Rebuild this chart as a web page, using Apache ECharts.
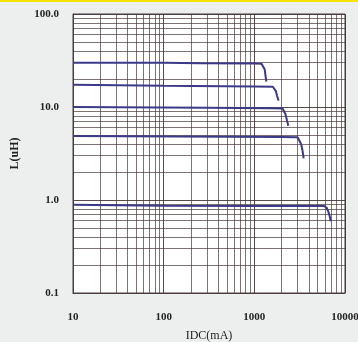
<!DOCTYPE html>
<html>
<head>
<meta charset="utf-8">
<script src="https://cdn.jsdelivr.net/npm/echarts@6/dist/echarts.min.js"></script>
<style>
  html, body { margin: 0; padding: 0; background: #edefee; }
  #chart { width: 358px; height: 342px; }
</style>
</head>
<body>
<div id="chart"></div>
<script>
// tick labels
var xTicks = [10, 100, 1000, 10000];
var yTicks = [0.1, 1, 10, 100];

// minor grid lines (2..9 of each decade)
var xMinor = [20, 30, 40, 50, 60, 70, 80, 90, 200, 300, 400, 500, 600, 700, 800, 900,
  2000, 3000, 4000, 5000, 6000, 7000, 8000, 9000];
var yMinor = [0.2, 0.3, 0.4, 0.5, 0.6, 0.7, 0.8, 0.9, 2, 3, 4, 5, 6, 7, 8, 9,
  20, 30, 40, 50, 60, 70, 80, 90];

// inductance vs DC current: [IDC mA, L uH]
var curve30 = [[10, 30], [100, 30], [250, 29.6], [1000, 29.3], [1200, 29.2], [1260, 28.2], [1300, 25.5], [1330, 21.5], [1357, 18.7]];
var curve17 = [[10, 17.3], [100, 16.9], [1000, 16.6], [1600, 16.5], [1680, 16.0], [1730, 14.8], [1780, 13.2], [1850, 11.7]];
var curve10 = [[10, 10.0], [300, 9.8], [1500, 9.7], [2050, 9.65], [2140, 9.2], [2210, 8.3], [2290, 7.2], [2370, 6.3]];
var curve5 = [[10, 4.87], [500, 4.8], [2000, 4.75], [3000, 4.72], [3150, 4.5], [3280, 4.0], [3400, 3.4], [3500, 2.8]];
var curve1 = [[10, 0.89], [30, 0.88], [100, 0.865], [1000, 0.86], [5900, 0.86], [6250, 0.83], [6550, 0.75], [6800, 0.66], [6950, 0.59]];

var curves = [curve30, curve17, curve10, curve5, curve1];

var chart = echarts.init(document.getElementById("chart"));

var gridColor = "rgba(70,55,55,0.7)";
var lineColor = "#3c3a88";
var font = "'Liberation Serif', 'DejaVu Serif', serif";

var series = curves.map(function (c) {
  return {
    type: "line",
    data: c,
    showSymbol: false,
    smooth: false,
    lineStyle: { color: lineColor, width: 2 },
    z: 5
  };
});

// grid lines for 2..9 of each decade, placed through the axes
var markData = [];
xMinor.forEach(function (v) { markData.push({ xAxis: v }); });
yMinor.forEach(function (v) { markData.push({ yAxis: v }); });
series.push({
  type: "line",
  data: [],
  silent: true,
  markLine: {
    silent: true,
    symbol: "none",
    animation: false,
    label: { show: false },
    lineStyle: { color: gridColor, width: 1, type: "solid" },
    data: markData
  },
  z: 1
});

var option = {
  backgroundColor: "#edefee",
  animation: false,
  grid: {
    left: 73, right: 13, top: 14, bottom: 49,
    outerBoundsMode: "none",
    containLabel: false,
    show: true,
    backgroundColor: "#ffffff",
    borderColor: "#4a3e3e",
    borderWidth: 1
  },
  graphic: [{
    type: "rect",
    left: 0, top: 0,
    shape: { width: 358, height: 2 },
    style: { fill: "#f6e200" }
  }],
  xAxis: {
    type: "log",
    logBase: 10,
    min: xTicks[0],
    max: xTicks[xTicks.length - 1],
    name: "IDC(mA)",
    nameLocation: "middle",
    nameGap: 37,
    nameTextStyle: { fontFamily: font, fontSize: 12, color: "#222" },
    axisLine: { show: true, lineStyle: { color: "#4a3e3e" } },
    axisTick: { show: false },
    axisLabel: {
      margin: 19,
      fontFamily: font,
      fontSize: 11,
      fontWeight: "bold",
      color: "#222",
      formatter: function (v) { return String(Math.round(v)); }
    },
    splitLine: { show: true, lineStyle: { color: "rgba(60,45,45,0.85)", width: 1 } }
  },
  yAxis: {
    type: "log",
    logBase: 10,
    min: yTicks[0],
    max: yTicks[yTicks.length - 1],
    name: "L(uH)",
    nameLocation: "middle",
    nameGap: 52,
    nameTextStyle: { fontFamily: font, fontSize: 12, fontWeight: "bold", color: "#222" },
    axisLine: { show: true, lineStyle: { color: "#4a3e3e" } },
    axisTick: { show: false },
    axisLabel: {
      margin: 14,
      fontFamily: font,
      fontSize: 11,
      fontWeight: "bold",
      color: "#222",
      formatter: function (v) { return Number(v).toFixed(1); }
    },
    splitLine: { show: true, lineStyle: { color: "rgba(60,45,45,0.85)", width: 1 } }
  },
  series: series
};

chart.setOption(option);
</script>
</body>
</html>
